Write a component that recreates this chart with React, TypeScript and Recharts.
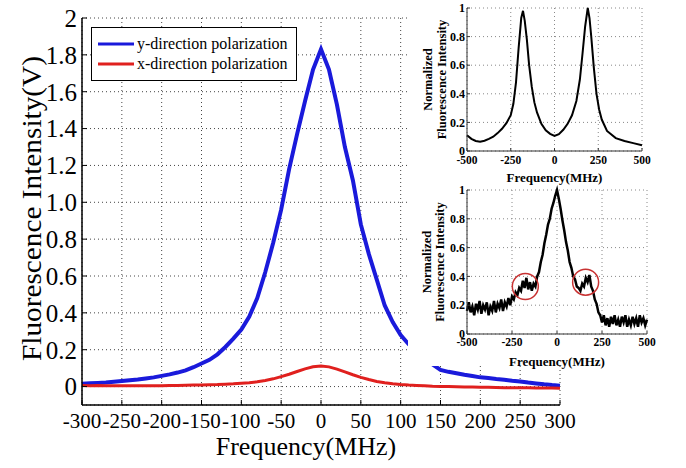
import { LineChart, Line, XAxis, YAxis, CartesianGrid, Legend, ReferenceDot } from "recharts";

const serif = "Liberation Serif";

// main plot: fluorescence vs detuning
const freq = [
  -300, -290, -280, -270, -260, -250, -240, -230, -220, -210, -200, -190, -180, -170, -160, -150,
  -140, -130, -120, -110, -100, -90, -80, -70, -60, -50, -40, -30, -20, -10, 0, 10, 20, 30, 40, 50,
  60, 70, 80, 90, 100, 110, 120, 130, 140, 150, 160, 170, 180, 190, 200, 210, 220, 230, 240, 250,
  260, 270, 280, 290, 300,
];
const yPol = [
  0.015, 0.018, 0.02, 0.022, 0.026, 0.03, 0.034, 0.038, 0.044, 0.05, 0.058, 0.066, 0.076, 0.088,
  0.105, 0.125, 0.145, 0.175, 0.215, 0.26, 0.31, 0.38, 0.48, 0.62, 0.78, 0.96, 1.18, 1.37, 1.55,
  1.72, 1.83, 1.72, 1.53, 1.3, 1.12, 0.88, 0.72, 0.58, 0.44, 0.35, 0.28, 0.23, 0.19, 0.155, 0.12,
  0.09, 0.08, 0.072, 0.064, 0.057, 0.05, 0.046, 0.041, 0.037, 0.032, 0.028, 0.022, 0.017, 0.012,
  0.008, 0.005,
];
const xPol = [
  0.006, 0.005, 0.006, 0.004, 0.005, 0.004, 0.005, 0.004, 0.005, 0.005, 0.005, 0.006, 0.006, 0.007,
  0.008, 0.009, 0.01, 0.011, 0.013, 0.015, 0.018, 0.021, 0.026, 0.033, 0.042, 0.054, 0.067, 0.082,
  0.096, 0.107, 0.112, 0.107, 0.095, 0.08, 0.064, 0.05, 0.038, 0.028, 0.021, 0.015, 0.011, 0.008,
  0.006, 0.004, 0.002, 0.001, 0.0, -0.001, -0.002, -0.003, -0.004, -0.004, -0.005, -0.006, -0.006,
  -0.007, -0.007, -0.008, -0.008, -0.008, -0.009,
];
const mainXTicks = [-300, -250, -200, -150, -100, -50, 0, 50, 100, 150, 200, 250, 300];
const mainYTicks = [0, 0.2, 0.4, 0.6, 0.8, 1.0, 1.2, 1.4, 1.6, 1.8, 2];

// upper inset
const topFreq = [
  -500, -475, -450, -425, -400, -375, -350, -325, -300, -275, -250, -235, -220, -205, -190, -180,
  -170, -158, -145, -130, -115, -100, -75, -50, -25, 0, 25, 50, 75, 100, 125, 145, 160, 175, 190,
  200, 210, 225, 240, 255, 270, 300, 350, 400, 450, 500,
];
const topVal = [
  0.11, 0.085, 0.07, 0.065, 0.072, 0.085, 0.1, 0.125, 0.155, 0.195, 0.25, 0.33, 0.48, 0.72, 0.93,
  0.98, 0.91, 0.78, 0.6, 0.45, 0.34, 0.27, 0.19, 0.145, 0.12, 0.105, 0.118, 0.148, 0.19, 0.25, 0.35,
  0.5, 0.68, 0.87, 1.0, 0.93, 0.8, 0.58, 0.4, 0.29, 0.22, 0.14, 0.09, 0.07, 0.055, 0.04,
];

// lower inset (noisy)
const botFreq = [
  -500, -490, -480, -470, -460, -450, -440, -430, -420, -410, -400, -390, -380, -370, -360, -350,
  -340, -330, -320, -310, -300, -290, -280, -270, -260, -250, -240, -230, -220, -210, -200, -190,
  -180, -170, -160, -150, -140, -130, -120, -110, -100, -90, -80, -70, -60, -50, -40, -30, -20, -10,
  0, 10, 20, 30, 40, 50, 60, 70, 80, 90, 100, 110, 120, 130, 140, 150, 160, 170, 180, 190, 200, 210,
  220, 230, 240, 250, 260, 270, 280, 290, 300, 310, 320, 330, 340, 350, 360, 370, 380, 390, 400, 410,
  420, 430, 440, 450, 460, 470, 480, 490, 500,
];
const botVal = [
  0.16, 0.22, 0.15, 0.19, 0.13, 0.21, 0.17, 0.23, 0.14, 0.2, 0.17, 0.22, 0.13, 0.19, 0.16, 0.23,
  0.15, 0.21, 0.18, 0.24, 0.16, 0.22, 0.19, 0.25, 0.2, 0.26, 0.24, 0.29, 0.27, 0.32, 0.3, 0.37, 0.32,
  0.39, 0.31, 0.36, 0.3, 0.35, 0.33, 0.4, 0.43, 0.5, 0.55, 0.63, 0.69, 0.76, 0.8, 0.87, 0.91, 0.96,
  1.0, 0.94, 0.87, 0.79, 0.72, 0.64, 0.58, 0.5, 0.46, 0.4, 0.38, 0.33, 0.32, 0.3, 0.35, 0.33, 0.39,
  0.36, 0.41, 0.33, 0.3, 0.24, 0.21, 0.15, 0.13, 0.08, 0.13, 0.06, 0.11, 0.05, 0.12, 0.07, 0.13,
  0.06, 0.1, 0.05, 0.12, 0.08, 0.13, 0.05, 0.1, 0.06, 0.12, 0.07, 0.11, 0.05, 0.13, 0.08, 0.11,
  0.06, 0.1,
];
const insetXTicks = [-500, -250, 0, 250, 500];
const insetYTicks = [0, 0.2, 0.4, 0.6, 0.8, 1];

const mainData = freq.map((f, i) => ({ f, y: yPol[i], x: xPol[i] }));
const topData = topFreq.map((f, i) => ({ f, v: topVal[i] }));
const botData = botFreq.map((f, i) => ({ f, v: botVal[i] }));

const fmtMain = (v: number) => (v === 0 || v === 2 ? String(v) : v.toFixed(1));
const fmtInset = (v: number) => (v === 0 || v === 1 ? String(v) : v.toFixed(1));

function MainLegend() {
  const rows = [
    { name: "y-direction polarization", color: "#1a1adb" },
    { name: "x-direction polarization", color: "#e0201e" },
  ];
  return (
    <div style={{ border: "1px solid #000", background: "#fff", padding: "6px 6px", width: 192 }}>
      {rows.map((r) => (
        <div key={r.name} style={{ display: "flex", alignItems: "center", height: 20 }}>
          <svg width={36} height={6} style={{ marginRight: 3 }}>
            <line x1={0} y1={3} x2={36} y2={3} stroke={r.color} strokeWidth={3} />
          </svg>
          <span style={{ fontFamily: serif, fontSize: 16, color: "#000", whiteSpace: "nowrap" }}>{r.name}</span>
        </div>
      ))}
    </div>
  );
}

function InsetYLabel(props: any) {
  const { viewBox, x1, x2 } = props;
  const cy = viewBox.y + viewBox.height / 2;
  const style = { fontFamily: serif, fontSize: 12.5, fontWeight: 700 } as const;
  return (
    <g>
      <text x={x1} y={cy} transform={`rotate(-90 ${x1} ${cy})`} textAnchor="middle" dominantBaseline="central" style={style}>
        Normalized
      </text>
      <text x={x2} y={cy} transform={`rotate(-90 ${x2} ${cy})`} textAnchor="middle" dominantBaseline="central" style={style}>
        Fluorescence Intensity
      </text>
    </g>
  );
}

function Inset({ data, top, height, marginTop, marginRight, xH, tickM, labelOff, labelX, circles, lw }: any) {
  const tickStyle = { fill: "#000", fontSize: 12, fontWeight: 700, fontFamily: serif };
  return (
    <div style={{ position: "absolute", left: 420, top, width: 266, height }}>
      <LineChart width={266} height={height} data={data} margin={{ top: marginTop, right: marginRight, left: 0, bottom: 0 }}>
        <CartesianGrid stroke="#888" strokeDasharray="1 3" />
        <XAxis
          dataKey="f"
          type="number"
          domain={[-500, 500]}
          ticks={insetXTicks}
          interval={0}
          height={xH}
          tickSize={-3}
          tickMargin={tickM}
          tick={{ ...tickStyle, fontSize: 11.5 }}
          axisLine={{ stroke: "#333" }}
          tickLine={{ stroke: "#333" }}
          label={{ value: "Frequency(MHz)", position: "insideBottom", offset: labelOff, style: { ...tickStyle, fontSize: 13 } }}
        />
        <XAxis xAxisId="top" orientation="top" dataKey="f" type="number" domain={[-500, 500]} ticks={insetXTicks} height={0} tick={false} axisLine={{ stroke: "#666" }} />
        <YAxis
          type="number"
          domain={[0, 1]}
          ticks={insetYTicks}
          interval={0}
          width={47}
          tickSize={-3}
          tickMargin={5}
          tick={tickStyle}
          tickFormatter={fmtInset}
          axisLine={{ stroke: "#333" }}
          tickLine={{ stroke: "#333" }}
          label={{ content: (p: any) => <InsetYLabel {...p} x1={labelX[0]} x2={labelX[1]} /> }}
        />
        <YAxis yAxisId="right" orientation="right" type="number" domain={[0, 1]} width={0} tick={false} axisLine={{ stroke: "#666" }} />
        <Line type="linear" dataKey="v" stroke="#000" strokeWidth={lw} dot={false} isAnimationActive={false} />
        {circles.map((c: any, i: number) => (
          <ReferenceDot key={i} x={c[0]} y={c[1]} r={13} fill="none" stroke="#c83232" strokeWidth={1.5} />
        ))}
      </LineChart>
    </div>
  );
}

export default function App() {
  const tickStyle = { fill: "#000", fontFamily: serif };
  return (
    <div style={{ position: "absolute", left: 0, top: 0, width: 686, height: 468, background: "#fff", overflow: "hidden", fontFamily: serif }}>
      <LineChart width={686} height={468} data={mainData} margin={{ top: 18, right: 126, left: 0, bottom: 0 }}>
        <CartesianGrid stroke="#444" strokeDasharray="1 3" />
        <XAxis
          dataKey="f"
          type="number"
          domain={[-300, 300]}
          ticks={mainXTicks}
          interval={0}
          height={63}
          tickSize={-5}
          tickMargin={13}
          tick={{ ...tickStyle, fontSize: 21 }}
          axisLine={{ stroke: "#000", strokeWidth: 1.5 }}
          tickLine={{ stroke: "#000" }}
          label={{
            content: () => (
              <text x={306} y={455} textAnchor="middle" style={{ fontFamily: serif, fontSize: 26, fill: "#000" }}>
                Frequency(MHz)
              </text>
            ),
          }}
        />
        <XAxis xAxisId="top" orientation="top" dataKey="f" type="number" domain={[-300, 300]} ticks={mainXTicks} height={0} tickSize={-5} tickFormatter={() => ""} axisLine={{ stroke: "#000", strokeWidth: 1.5 }} tickLine={{ stroke: "#000" }} />
        <YAxis
          type="number"
          domain={[-0.1, 2]}
          ticks={mainYTicks}
          interval={0}
          width={82}
          tickSize={-5}
          tickMargin={10}
          tick={{ ...tickStyle, fontSize: 25 }}
          tickFormatter={fmtMain}
          axisLine={{ stroke: "#000", strokeWidth: 1.5 }}
          tickLine={{ stroke: "#000" }}
          label={{
            content: (p: any) => {
              const cy = p.viewBox.y + p.viewBox.height / 2 - 3;
              return (
                <text x={32} y={cy} transform={`rotate(-90 32 ${cy})`} textAnchor="middle" dominantBaseline="central" textLength={305} lengthAdjust="spacingAndGlyphs" style={{ fontFamily: serif, fontSize: 27, fill: "#000" }}>
                  Fluorescence Intensity(V)
                </text>
              );
            },
          }}
        />
        <YAxis yAxisId="right" orientation="right" type="number" domain={[-0.1, 2]} width={0} tick={false} axisLine={{ stroke: "#000", strokeWidth: 1.5 }} />
        <Legend layout="vertical" align="center" verticalAlign="middle" content={() => <MainLegend />} wrapperStyle={{ left: 91, top: 27, width: "auto" }} />
        <Line name="y-direction polarization" type="linear" dataKey="y" stroke="#1a1adb" strokeWidth={4} dot={false} isAnimationActive={false} />
        <Line name="x-direction polarization" type="linear" dataKey="x" stroke="#e0201e" strokeWidth={3} dot={false} isAnimationActive={false} />
      </LineChart>
      <div style={{ position: "absolute", left: 408, top: 0, width: 278, height: 366, background: "#fff" }} />
      <Inset data={topData} top={0} height={186} marginTop={8} marginRight={44} xH={35} tickM={8} labelOff={4} labelX={[8, 22]} circles={[]} lw={2} />
      <Inset data={botData} top={180} height={192} marginTop={10} marginRight={39} xH={38} tickM={7} labelOff={6} labelX={[7, 20]} circles={[[-176, 0.33], [159, 0.36]]} lw={2.5} />
    </div>
  );
}
